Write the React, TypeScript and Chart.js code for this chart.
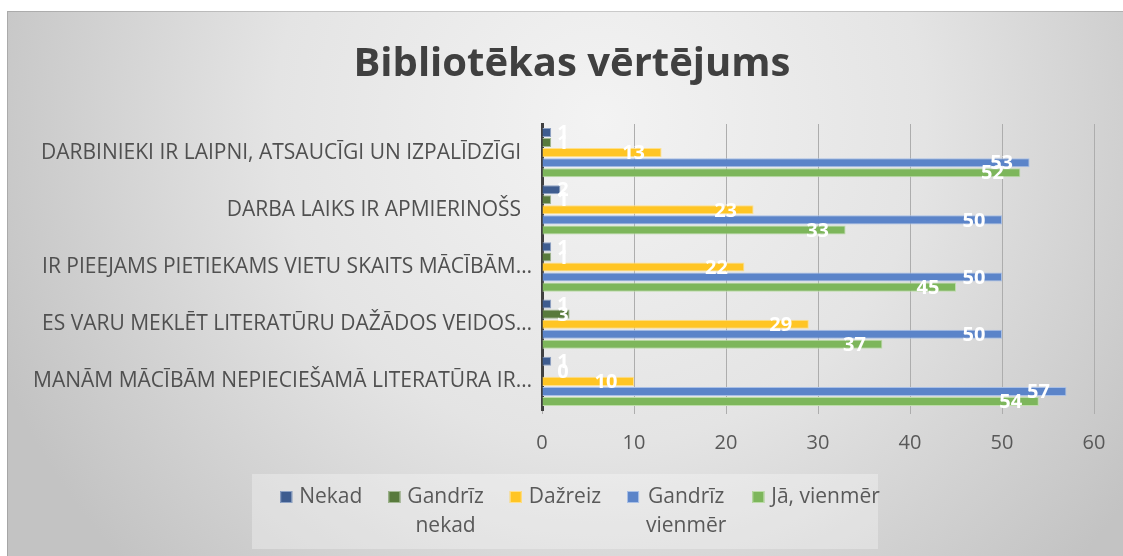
import { useEffect, useRef } from 'react';
import { Chart, registerables } from 'chart.js';

Chart.register(...registerables);

const chartTitle = 'Bibliotēkas vērtējums';
const categories = [
  'DARBINIEKI IR LAIPNI, ATSAUCĪGI UN IZPALĪDZĪGI  ',
  'DARBA LAIKS IR APMIERINOŠS  ',
  'IR PIEEJAMS PIETIEKAMS VIETU SKAITS MĀCĪBĀM…',
  'ES VARU MEKLĒT LITERATŪRU DAŽĀDOS VEIDOS…',
  'MANĀM MĀCĪBĀM NEPIECIEŠAMĀ LITERATŪRA IR…',
];
const seriesNames = ['Nekad', 'Gandrīz nekad', 'Dažreiz', 'Gandrīz vienmēr', 'Jā, vienmēr'];
const legendLines = [['Nekad'], ['Gandrīz', 'nekad'], ['Dažreiz'], ['Gandrīz', 'vienmēr'], ['Jā, vienmēr']];
const nekad = [1, 2, 1, 1, 1];
const gandrizNekad = [1, 1, 1, 3, 0];
const dazreiz = [13, 23, 22, 29, 10];
const gandrizVienmer = [53, 50, 50, 50, 57];
const jaVienmer = [52, 33, 45, 37, 54];
const xTicks = [0, 10, 20, 30, 40, 50, 60];

const fills = ['#3E5C8F', '#587A3C', '#FFC524', '#5B84C9', '#7DB65B'];
const borders = ['#8EA2C4', '#A3B893', '#FFE08C', '#A9C0E6', '#BCDCA8'];

const FONT = '"Open Sans", "Noto Sans", sans-serif';

const decorPlugin = {
  id: 'decor',
  beforeDraw(chart: any) {
    const ctx = chart.ctx;
    const W = chart.width;
    const H = chart.height;
    ctx.save();
    ctx.fillStyle = '#ffffff';
    ctx.fillRect(0, 0, W, H);
    const g = ctx.createRadialGradient(600, 120, 0, 600, 120, 650);
    g.addColorStop(0, '#F3F3F3');
    g.addColorStop(0.5, '#E4E4E4');
    g.addColorStop(1, '#C3C3C3');
    ctx.fillStyle = g;
    ctx.fillRect(7, 11, W - 7, H - 11);
    ctx.strokeStyle = 'rgba(0,0,0,0.15)';
    ctx.lineWidth = 1;
    ctx.beginPath();
    ctx.moveTo(7.5, H);
    ctx.lineTo(7.5, 11.5);
    ctx.lineTo(W, 11.5);
    ctx.stroke();
    // legend background
    ctx.fillStyle = 'rgba(255,255,255,0.3)';
    ctx.fillRect(252, 474, 626, 75);
    // title
    ctx.fillStyle = '#404040';
    ctx.font = `bold 40px ${FONT}`;
    ctx.textAlign = 'center';
    ctx.textBaseline = 'alphabetic';
    ctx.fillText(chartTitle, 572, 76);
    ctx.restore();
  },
  afterDatasetsDraw(chart: any) {
    const ctx = chart.ctx;
    const xs = chart.scales.x;
    const base = xs.getPixelForValue(0);
    ctx.save();
    ctx.fillStyle = '#ffffff';
    ctx.font = `bold 20px ${FONT}`;
    ctx.textAlign = 'center';
    ctx.textBaseline = 'middle';
    chart.data.datasets.forEach((ds: any, i: number) => {
      const meta = chart.getDatasetMeta(i);
      meta.data.forEach((bar: any, j: number) => {
        const v = ds.data[j];
        const x = Math.max(bar.x - 28, base + 21);
        ctx.fillText(String(v), x, bar.y + 1);
      });
    });
    ctx.restore();
  },
  afterDraw(chart: any) {
    const ctx = chart.ctx;
    ctx.save();
    ctx.font = `21px ${FONT}`;
    ctx.textBaseline = 'middle';
    ctx.textAlign = 'center';
    const box = 12;
    const gap = 7;
    const spacing = 26;
    const widths = legendLines.map((lines) => Math.max(...lines.map((l) => ctx.measureText(l).width)));
    const total = widths.reduce((a, w) => a + box + gap + w, 0) + spacing * (widths.length - 1);
    let x = 580 - total / 2;
    const y1 = 497;
    const lh = 29;
    legendLines.forEach((lines, i) => {
      ctx.fillStyle = fills[i];
      ctx.fillRect(x, y1 - box / 2, box, box);
      ctx.strokeStyle = borders[i];
      ctx.lineWidth = 1;
      ctx.strokeRect(x + 0.5, y1 - box / 2 + 0.5, box - 1, box - 1);
      ctx.fillStyle = '#595959';
      const tx = x + box + gap + widths[i] / 2;
      lines.forEach((l, k) => ctx.fillText(l, tx, y1 + k * lh));
      x += box + gap + widths[i] + spacing;
    });
    ctx.restore();
  },
};

export default function App() {
  const ref = useRef<HTMLCanvasElement | null>(null);
  useEffect(() => {
    if (!ref.current) return;
    const values = [nekad, gandrizNekad, dazreiz, gandrizVienmer, jaVienmer];
    const chart = new Chart(ref.current, {
      type: 'bar',
      data: {
        labels: categories,
        datasets: seriesNames.map((name, i) => ({
          label: name,
          data: values[i],
          backgroundColor: fills[i],
          borderColor: borders[i],
          borderWidth: 1,
          categoryPercentage: 0.88,
          barPercentage: 0.9,
        })),
      },
      options: {
        indexAxis: 'y',
        animation: false,
        responsive: false,
        devicePixelRatio: 1,
        layout: { padding: { top: 124, right: 29, left: 0, bottom: 0 } },
        plugins: {
          legend: { display: false },
          title: { display: false },
          tooltip: { enabled: false },
        },
        scales: {
          x: {
            min: 0,
            max: 60,
            afterBuildTicks: (s: any) => {
              s.ticks = xTicks.map((v) => ({ value: v }));
            },
            ticks: { font: { family: FONT, size: 20 }, color: '#595959', padding: 17 },
            grid: { color: '#ADADAD', lineWidth: 1, drawTicks: true, tickLength: 4 },
            border: { display: false },
            afterFit: (s: any) => {
              s.height = 146;
            },
          },
          y: {
            ticks: { font: { family: FONT, size: 21 }, color: '#505050', padding: 10 },
            grid: { display: false, drawTicks: false },
            border: { display: true, color: '#404040', width: 3 },
            afterFit: (s: any) => {
              s.width = 542;
            },
          },
        },
      },
      plugins: [decorPlugin],
    } as any);
    return () => chart.destroy();
  }, []);
  return (
    <div style={{ position: 'fixed', left: 0, top: 0, width: 1123, height: 556 }}>
      <canvas ref={ref} width={1123} height={556} style={{ display: 'block', width: 1123, height: 556 }} />
    </div>
  );
}
